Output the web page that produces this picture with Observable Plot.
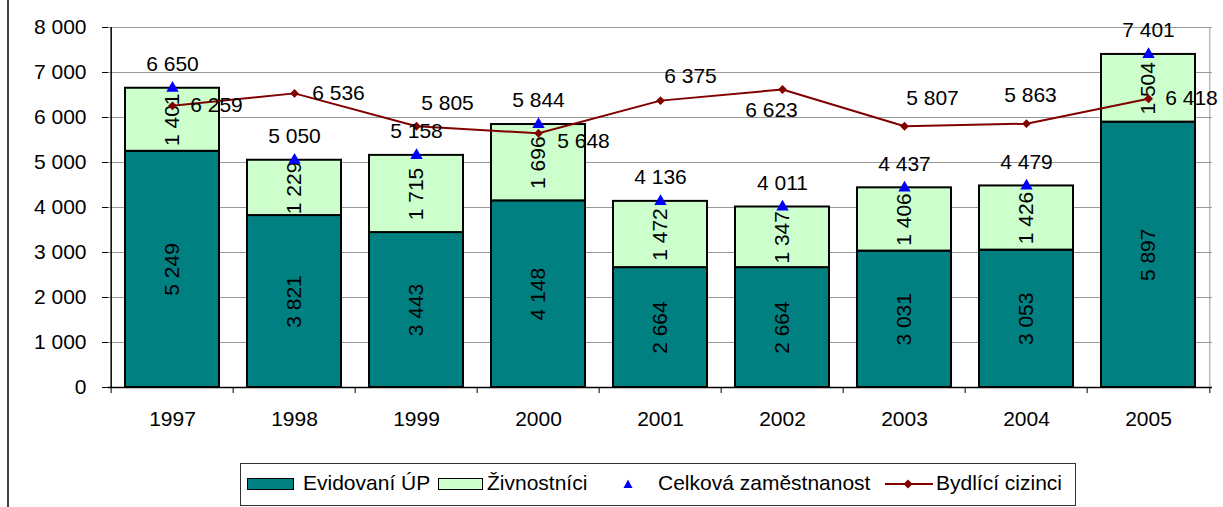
<!DOCTYPE html>
<html><head><meta charset="utf-8">
<script src="https://cdn.jsdelivr.net/npm/d3@7"></script>
<script src="https://cdn.jsdelivr.net/npm/@observablehq/plot@0.6"></script>
<style>
body{margin:0;background:#fff;font-family:"Liberation Sans",Arial,sans-serif;}
#wrap{position:relative;width:1223px;height:507px;overflow:hidden;background:#fff;}
#chart{position:absolute;left:0;top:0;}
#border{position:absolute;left:7px;top:0;width:0;height:507px;border-left:2px solid #444;}
#legendBox{position:absolute;left:240px;top:463px;width:836px;height:43px;border:1px solid #333;box-sizing:border-box;}
.lt{position:absolute;top:473px;font-size:21px;line-height:20px;color:#000;white-space:nowrap;}
.sw{position:absolute;top:478px;height:12px;box-sizing:border-box;border:1.5px solid #000;}
</style></head><body>
<div id="wrap"><div id="chart"></div><div id="border"></div><div id="legendBox"></div></div>
<script>
const years = ["1997","1998","1999","2000","2001","2002","2003","2004","2005"];
const evidovani = [5249, 3821, 3443, 4148, 2664, 2664, 3031, 3053, 5897];
const zivnostnici = [1401, 1229, 1715, 1696, 1472, 1347, 1406, 1426, 1504];
const celkova = [6650, 5050, 5158, 5844, 4136, 4011, 4437, 4479, 7401];
const bydlici = [6259, 6536, 5805, 5648, 6375, 6623, 5807, 5863, 6418];
const seriesNames = ["Evidovaní ÚP", "Živnostníci", "Celková zaměstnanost", "Bydlící cizinci"];
const yTicks = [0, 1000, 2000, 3000, 4000, 5000, 6000, 7000, 8000];

// label offsets (style) for the "Bydlící cizinci" labels, in px
const foreignLabelOffsets = [[44,-1],[44,0],[31,-23],[45,8],[30,-24],[-11,21],[28,-28],[4,-28],[43,0]];

const colors = ["#008080", "#CCFFCC", "#0000FF", "#800000"];
const fmt = v => d3.format(",")(v).replace(/,/g, " ");

const W = 1223, H = 440, mL = 108, mR = 11, mT = 27, mB = 53;
const step = (W - mL - mR) / years.length;

const stacked = years.flatMap((y, i) => [
  {year: y, series: seriesNames[0], value: evidovani[i], mid: evidovani[i] / 2},
  {year: y, series: seriesNames[1], value: zivnostnici[i], mid: evidovani[i] + zivnostnici[i] / 2}
]);
const totals = years.map((y, i) => ({year: y, value: celkova[i]}));
const foreign = years.map((y, i) => ({year: y, value: bydlici[i]}));

const chart = Plot.plot({
  width: W, height: H, marginLeft: mL, marginRight: mR, marginTop: mT, marginBottom: mB,
  style: {fontFamily: '"Liberation Sans", Arial, sans-serif', fontSize: "21px", color: "#000", background: "transparent", overflow: "visible"},
  x: {domain: years, paddingInner: 0.23, paddingOuter: 0.115, label: null},
  y: {domain: [0, 8000], label: null},
  color: {domain: seriesNames.slice(0, 2), range: colors.slice(0, 2)},
  marks: [
    Plot.gridY(yTicks, {stroke: "#999", strokeOpacity: 1}),
    Plot.ruleX([years[years.length - 1]], {x: d => d, dx: step / 2, stroke: "#999"}),
    Plot.axisY(yTicks, {tickSize: 6, tickPadding: 16, tickFormat: fmt, label: null, fontSize: 21}),
    Plot.axisX({tickSize: 0, tickPadding: 24, label: null, fontSize: 21}),
    Plot.ruleX(years, {x: d => d, dx: -step / 2, insetTop: H - mT - mB, insetBottom: -6, stroke: "#000"}),
    Plot.ruleX([years[years.length - 1]], {x: d => d, dx: step / 2, insetTop: H - mT - mB, insetBottom: -6, stroke: "#000"}),
    Plot.barY(stacked, {x: "year", y: "value", fill: "series", stroke: "#000", strokeWidth: 2}),
    Plot.ruleX([years[0]], {x: d => d, dx: -step / 2, stroke: "#000", strokeWidth: 1.5}),
    Plot.ruleY([0], {stroke: "#000", strokeWidth: 1.5}),
    Plot.text(stacked, {x: "year", y: "mid", text: d => fmt(d.value), rotate: -90, fontSize: 21, fill: "#000"}),
    Plot.line(foreign, {x: "year", y: "value", stroke: colors[3], strokeWidth: 2}),
    Plot.dot(foreign, {x: "year", y: "value", symbol: "diamond2", r: 4, fill: colors[3], stroke: "none"}),
    Plot.dot(totals, {x: "year", y: "value", symbol: "triangle", r: 4.6, fill: colors[2], stroke: "none"}),
    Plot.text(totals, {x: "year", y: "value", dy: -24, text: d => fmt(d.value), fontSize: 21, fill: "#000"}),
    ...foreign.map((d, i) => Plot.text([d], {x: "year", y: "value", dx: foreignLabelOffsets[i][0], dy: foreignLabelOffsets[i][1], text: d => fmt(d.value), fontSize: 21, fill: "#000"}))
  ]
});
document.getElementById("chart").appendChild(chart);

// legend
const wrap = document.getElementById("wrap");
function add(html) { wrap.insertAdjacentHTML("beforeend", html); }
add(`<div class="sw" style="left:247px;width:47px;background:${colors[0]}"></div>`);
add(`<div class="lt" style="left:303px">${seriesNames[0]}</div>`);
add(`<div class="sw" style="left:438px;width:45px;background:${colors[1]}"></div>`);
add(`<div class="lt" style="left:487px">${seriesNames[1]}</div>`);
add(`<svg style="position:absolute;left:622px;top:478px" width="12" height="12"><path d="M6,1.5 L10.5,10 L1.5,10 Z" fill="${colors[2]}"/></svg>`);
add(`<div class="lt" style="left:658px">${seriesNames[2]}</div>`);
add(`<svg style="position:absolute;left:884px;top:478px" width="50" height="12"><line x1="1" y1="6" x2="49" y2="6" stroke="${colors[3]}" stroke-width="2"/><path d="M24,1.5 L28.5,6 L24,10.5 L19.5,6 Z" fill="${colors[3]}"/></svg>`);
add(`<div class="lt" style="left:936px">${seriesNames[3]}</div>`);
</script>
</body></html>
